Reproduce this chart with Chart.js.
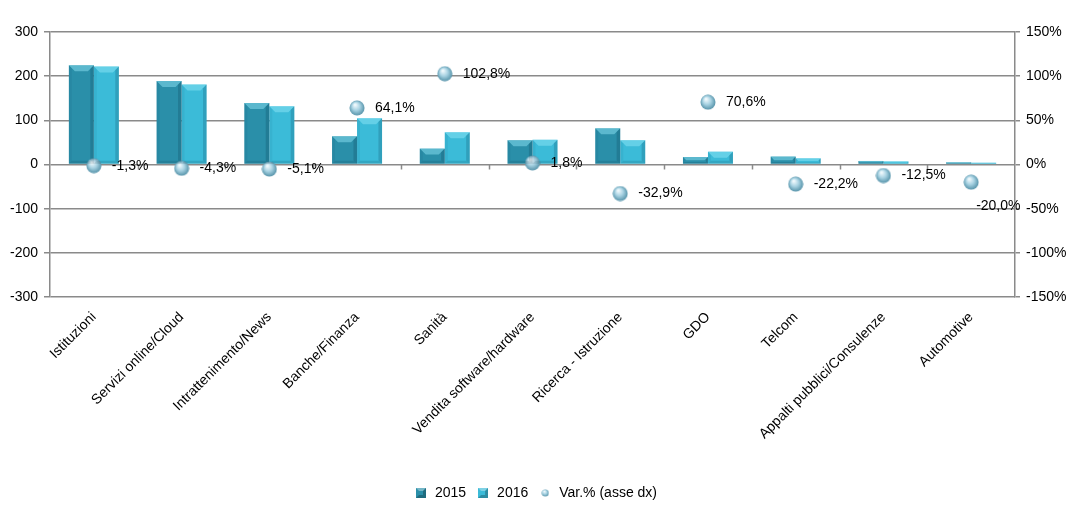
<!DOCTYPE html>
<html><head><meta charset="utf-8">
<script src="https://cdn.jsdelivr.net/npm/chart.js@4"></script>
<style>html,body{margin:0;padding:0;background:#fff}#wrap{width:1071px;height:518px}</style>
</head><body><div id="wrap"><canvas id="c" width="1071" height="518"></canvas></div>
<script>
const categories = ["Istituzioni","Servizi online/Cloud","Intrattenimento/News","Banche/Finanza","Sanità","Vendita software/hardware","Ricerca - Istruzione","GDO","Telcom","Appalti pubblici/Consulenze","Automotive"];
const values2015 = [225,189,139,64,36,55,82,17,18,8,5];
const values2016 = [222,181,132,105,73,56,55,29,14,7,4];
const varPct = [-1.3,-4.3,-5.1,64.1,102.8,1.8,-32.9,70.6,-22.2,-12.5,-20.0];
const seriesNames = ["2015","2016","Var.% (asse dx)"];

const FONT = "'Liberation Sans', Arial, sans-serif";
const GRID = '#8a8a8a';
const C2015 = '#2a8fa9';
const C2016 = '#3bbbd8';

function makeSphere(r){
  const c = document.createElement('canvas');
  c.width = c.height = 2*r;
  const g = c.getContext('2d');
  const grad = g.createRadialGradient(r*0.75, r*0.6, r*0.1, r, r, r);
  grad.addColorStop(0, '#eef8fc');
  grad.addColorStop(0.45, '#a9d3e3');
  grad.addColorStop(1, '#4f8ea5');
  g.fillStyle = grad;
  g.beginPath(); g.arc(r, r, r-0.5, 0, Math.PI*2); g.fill();
  return c;
}
function makeBox(color){
  const s = 10;
  const c = document.createElement('canvas');
  c.width = c.height = s;
  const g = c.getContext('2d');
  g.fillStyle = color; g.fillRect(0,0,s,s);
  g.fillStyle = 'rgba(255,255,255,0.35)';
  g.beginPath(); g.moveTo(0,0); g.lineTo(s,0); g.lineTo(s-3,3); g.lineTo(3,3); g.closePath(); g.fill();
  g.fillStyle = 'rgba(0,0,0,0.25)';
  g.beginPath(); g.moveTo(s,0); g.lineTo(s,s); g.lineTo(s-3,s-3); g.lineTo(s-3,3); g.closePath(); g.fill();
  g.beginPath(); g.moveTo(0,s); g.lineTo(s,s); g.lineTo(s-3,s-3); g.lineTo(3,s-3); g.closePath(); g.fill();
  return c;
}
const sphere = makeSphere(8);
const legendSphere = makeSphere(4);
const box2015 = makeBox(C2015);
const box2016 = makeBox(C2016);

function fmtPct(v){ return v.toFixed(1).replace('.', ',') + '%'; }

const bevelPlugin = {
  id: 'bevel',
  afterDatasetsDraw(chart){
    const ctx = chart.ctx;
    [0,1].forEach(di => {
      const meta = chart.getDatasetMeta(di);
      meta.data.forEach(el => {
        const w = el.width;
        const l = el.x - w/2, r = el.x + w/2;
        const t = Math.min(el.y, el.base), b = Math.max(el.y, el.base);
        const h = b - t;
        if (h <= 0) return;
        const bv = Math.min(6, w/4, h/2);
        ctx.save();
        ctx.fillStyle = 'rgba(150,235,250,0.45)';
        ctx.beginPath(); ctx.moveTo(l,t); ctx.lineTo(r,t); ctx.lineTo(r-bv,t+bv); ctx.lineTo(l+bv,t+bv); ctx.closePath(); ctx.fill();
        ctx.fillStyle = 'rgba(0,40,60,0.18)';
        ctx.beginPath(); ctx.moveTo(r,t); ctx.lineTo(r,b); ctx.lineTo(r-bv*0.6,b-bv*0.6); ctx.lineTo(r-bv*0.6,t+bv*0.6); ctx.closePath(); ctx.fill();
        ctx.fillStyle = 'rgba(0,40,60,0.14)';
        ctx.beginPath(); ctx.moveTo(l,b); ctx.lineTo(r,b); ctx.lineTo(r-bv*0.5,b-bv*0.5); ctx.lineTo(l+bv*0.5,b-bv*0.5); ctx.closePath(); ctx.fill();
        ctx.fillStyle = 'rgba(0,40,60,0.06)';
        ctx.beginPath(); ctx.moveTo(l,t); ctx.lineTo(l,b); ctx.lineTo(l+bv*0.5,b-bv*0.5); ctx.lineTo(l+bv*0.5,t+bv*0.5); ctx.closePath(); ctx.fill();
        ctx.restore();
      });
    });
  }
};

const labelPlugin = {
  id: 'pctLabels',
  afterDraw(chart){
    const ctx = chart.ctx;
    const meta = chart.getDatasetMeta(2);
    const offsets = chart.options.plugins.pctLabels.offsets || {};
    ctx.save();
    ctx.font = '14px ' + FONT;
    ctx.fillStyle = '#000';
    ctx.textAlign = 'left';
    ctx.textBaseline = 'middle';
    meta.data.forEach((pt, i) => {
      const o = offsets[i] || {dx: 18, dy: 0};
      ctx.fillText(fmtPct(varPct[i]), pt.x + o.dx, pt.y + o.dy);
    });
    ctx.restore();
  }
};

const zeroTicksPlugin = {
  id: 'zeroTicks',
  beforeDatasetsDraw(chart){
    const ctx = chart.ctx;
    const y0 = chart.scales.y.getPixelForValue(0);
    const a = chart.chartArea;
    const n = categories.length;
    ctx.save();
    ctx.strokeStyle = GRID;
    ctx.lineWidth = 1.5;
    for (let k = 1; k < n; k++){
      const x = Math.round(a.left + k*(a.right - a.left)/n) + 0.5;
      ctx.beginPath(); ctx.moveTo(x, y0); ctx.lineTo(x, y0 + 5); ctx.stroke();
    }
    ctx.restore();
  }
};

new Chart(document.getElementById('c'), {
  data: {
    labels: categories,
    datasets: [
      {type: 'bar', label: seriesNames[0], data: values2015, backgroundColor: C2015, yAxisID: 'y', categoryPercentage: 0.57, barPercentage: 1.0, order: 1},
      {type: 'bar', label: seriesNames[1], data: values2016, backgroundColor: C2016, yAxisID: 'y', categoryPercentage: 0.57, barPercentage: 1.0, order: 1},
      {type: 'line', label: seriesNames[2], data: varPct, yAxisID: 'y1', showLine: false, pointStyle: sphere, pointRadius: 8, pointHoverRadius: 8, order: -1}
    ]
  },
  options: {
    responsive: false,
    animation: false,
    devicePixelRatio: 1,
    layout: {padding: {top: 32, bottom: 8, left: 0, right: 0}},
    plugins: {
      tooltip: {enabled: false},
      pctLabels: {offsets: {10: {dx: 5, dy: 24}}},
      legend: {
        position: 'bottom',
        labels: {
          usePointStyle: true,
          padding: 10,
          font: {family: FONT, size: 14},
          color: '#000',
          generateLabels(chart){
            const imgs = [box2015, box2016, legendSphere];
            return seriesNames.map((n, i) => ({text: n, pointStyle: imgs[i], fillStyle: '#fff', strokeStyle: '#fff', lineWidth: 0, datasetIndex: i, hidden: false, fontColor: '#000'}));
          }
        }
      }
    },
    scales: {
      x: {
        type: 'category',
        grid: {display: false},
        border: {display: false},
        ticks: {minRotation: 45, maxRotation: 45, autoSkip: false, font: {family: FONT, size: 14}, color: '#000', padding: 4},
        afterFit(s){ s.height = 179; }
      },
      y: {
        position: 'left', min: -300, max: 300,
        ticks: {stepSize: 100, font: {family: FONT, size: 14}, color: '#000', padding: 6},
        grid: {color: GRID, lineWidth: 1.5, tickLength: 6},
        border: {color: GRID, width: 1.5},
        afterFit(s){ s.width = 50; }
      },
      y1: {
        position: 'right', min: -150, max: 150,
        ticks: {stepSize: 50, font: {family: FONT, size: 14}, color: '#000', padding: 6, callback: v => v + '%'},
        grid: {drawOnChartArea: false, color: GRID, lineWidth: 1.5, tickLength: 5},
        border: {color: GRID, width: 1.5},
        afterFit(s){ s.width = 56; }
      }
    }
  },
  plugins: [zeroTicksPlugin, bevelPlugin, labelPlugin]
});
</script>
</body></html>
